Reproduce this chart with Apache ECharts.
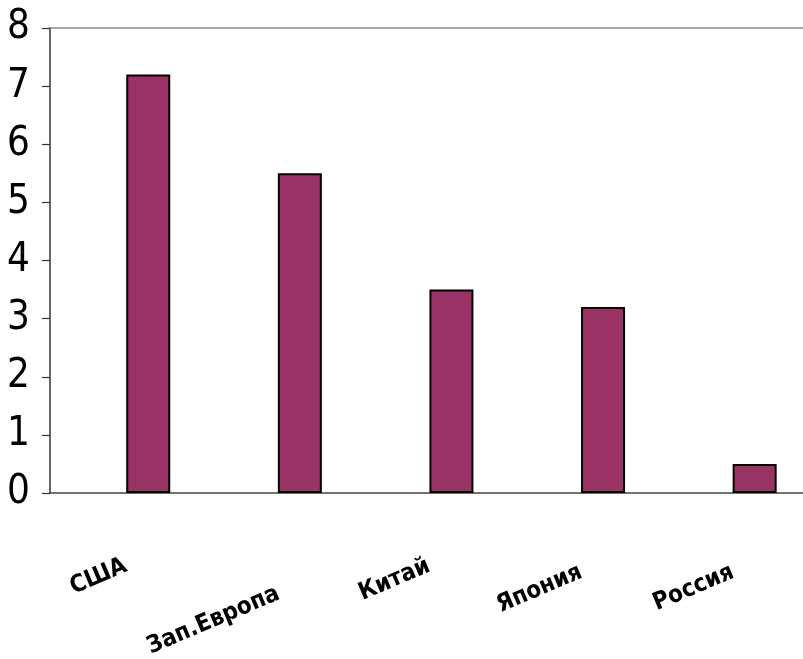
<!DOCTYPE html>
<html>
<head>
<meta charset="utf-8">
<script src="https://cdn.jsdelivr.net/npm/echarts@6/dist/echarts.min.js"></script>
<style>
  html, body { margin: 0; padding: 0; background: #fff; }
  #chart { width: 803px; height: 659px; }
</style>
</head>
<body>
<div id="chart"></div>
<script>
const categories = ["США", "Зап.Европа", "Китай", "Япония", "Россия"];
const values = [7.2, 5.5, 3.5, 3.2, 0.5];
// пустой первый ряд, как в исходной диаграмме (столбцы сдвинуты вправо)
const emptySeries = ["-", "-", "-", "-", "-"];
const yTicks = [0, 1, 2, 3, 4, 5, 6, 7, 8];
// стиль подписи для каждой категории (в оригинале подписи стоят вразнобой)
const labelStyles = ["n", "low", "n", "mid", "mid"];

const narrow = "'DejaVu Sans Condensed', 'Liberation Sans Narrow', sans-serif";
const labelFont = { fontFamily: narrow, fontWeight: "bold", fontSize: 24, color: "#000" };

const chart = echarts.init(document.getElementById("chart"));

const options = {
  animation: false,
  grid: {
    left: 50, right: -5, top: 28, bottom: 166,
    containLabel: false,
    outerBoundsMode: "none",
  },
  xAxis: [
    {
      type: "category",
      data: categories,
      axisLine: { lineStyle: { color: "#444", width: 1.5 } },
      axisTick: { length: 12, lineStyle: { color: "#444", width: 1.2 } },
      axisLabel: {
        rotate: 23,
        margin: 72,
        interval: 0,
        formatter: (v, i) => "{" + labelStyles[i] + "|" + v + "}",
        rich: {
          n: { ...labelFont },
          mid: { ...labelFont, padding: [12, 2, 0, 0] },
          low: { ...labelFont, padding: [52, 10, 0, 0] },
        },
      },
    },
    {
      // верхняя граница области построения
      type: "category",
      position: "top",
      data: categories,
      axisLine: { show: true, lineStyle: { color: "#8a8a8a", width: 1.5 } },
      axisTick: { show: false },
      axisLabel: { show: false },
    },
  ],
  yAxis: {
    type: "value",
    min: yTicks[0],
    max: yTicks[yTicks.length - 1],
    interval: 1,
    axisLine: { show: true, lineStyle: { color: "#333", width: 1.5 } },
    axisTick: { show: true, length: 8, lineStyle: { color: "#333", width: 1.2 } },
    splitLine: { show: false },
    axisLabel: {
      margin: 20,
      fontFamily: narrow,
      fontSize: 40,
      color: "#000",
    },
  },
  series: [
    {
      type: "bar",
      data: emptySeries,
      barWidth: 44,
      barGap: "2%",
    },
    {
      type: "bar",
      data: values,
      barWidth: 44,
      itemStyle: { color: "#993366", borderColor: "#000", borderWidth: 2 },
    },
  ],
};
chart.setOption(options);
</script>
</body>
</html>
